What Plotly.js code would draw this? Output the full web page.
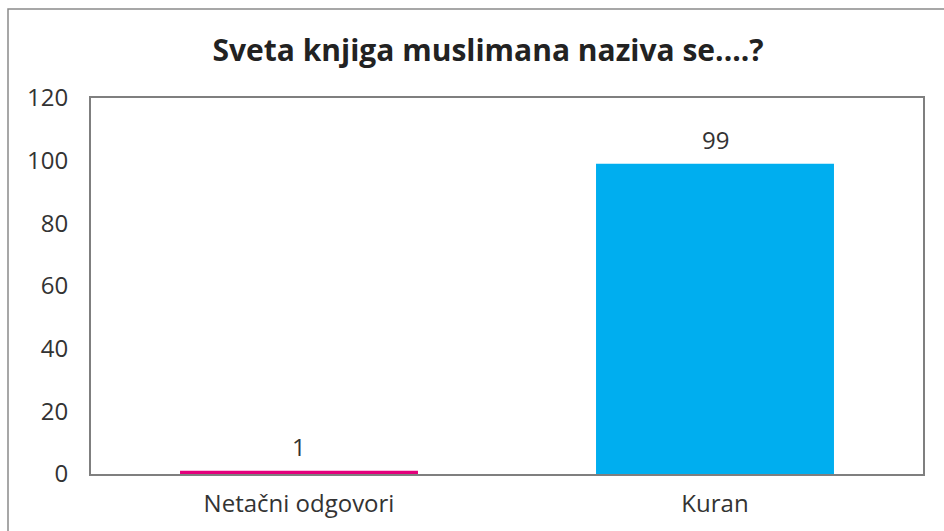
<!DOCTYPE html>
<html>
<head>
<meta charset="utf-8">
<script src="https://cdn.plot.ly/plotly-3.0.1.min.js"></script>
<style>html,body{margin:0;padding:0;background:#fff;}#chart{width:944px;height:531px;}</style>
</head>
<body>
<div id="chart"></div>
<script>
const categories = ["Netačni odgovori", "Kuran"];
const values = [1, 99];
const barColors = ["#E4007C", "#00AEEF"];
const yTicks = [0, 20, 40, 60, 80, 100, 120];
const titleText = "Sveta knjiga muslimana naziva se....?";

const FONT = "Open Sans, Lato, sans-serif";

Plotly.newPlot("chart", [{
  type: "bar",
  x: categories,
  y: values,
  marker: {color: barColors},
  width: 0.572,
  hoverinfo: "none"
}], {
  width: 944, height: 531,
  margin: {l: 91, r: 21, t: 98, b: 57},
  paper_bgcolor: "#ffffff",
  plot_bgcolor: "#ffffff",
  font: {family: FONT, size: 24, color: "#333333"},
  showlegend: false,
  title: {text: "<b>" + titleText + "</b>", x: 0.517, xanchor: "center", y: 1 - 50/531, yanchor: "middle", yref: "container",
          font: {family: FONT, size: 30, color: "#222222"}},
  xaxis: {
    showline: true, linecolor: "#7f7f7f", linewidth: 2, mirror: true,
    showgrid: false, ticks: "", ticklabelstandoff: 7,
    tickfont: {family: FONT, size: 24, color: "#333333"}
  },
  yaxis: {
    range: [0, 120], tickvals: yTicks, ticktext: yTicks.map(String),
    showline: true, linecolor: "#7f7f7f", linewidth: 2, mirror: true,
    showgrid: false, zeroline: false, ticks: "", ticklabelstandoff: 16,
    tickfont: {family: FONT, size: 24, color: "#333333"}
  },
  annotations: categories.map((c, i) => ({
    x: c, y: values[i], xref: "x", yref: "y",
    text: String(values[i]), showarrow: false,
    yanchor: "bottom", yshift: 6,
    font: {family: FONT, size: 24, color: "#333333"}
  })),
  shapes: [{
    type: "rect", xref: "paper", yref: "paper",
    x0: (8 - 91) / 832, x1: 1.2, y0: -0.5, y1: (474 - 9) / 376,
    line: {color: "#8a8a8a", width: 1.5}, fillcolor: "rgba(0,0,0,0)", layer: "below"
  }]
}, {staticPlot: true});
</script>
</body>
</html>
